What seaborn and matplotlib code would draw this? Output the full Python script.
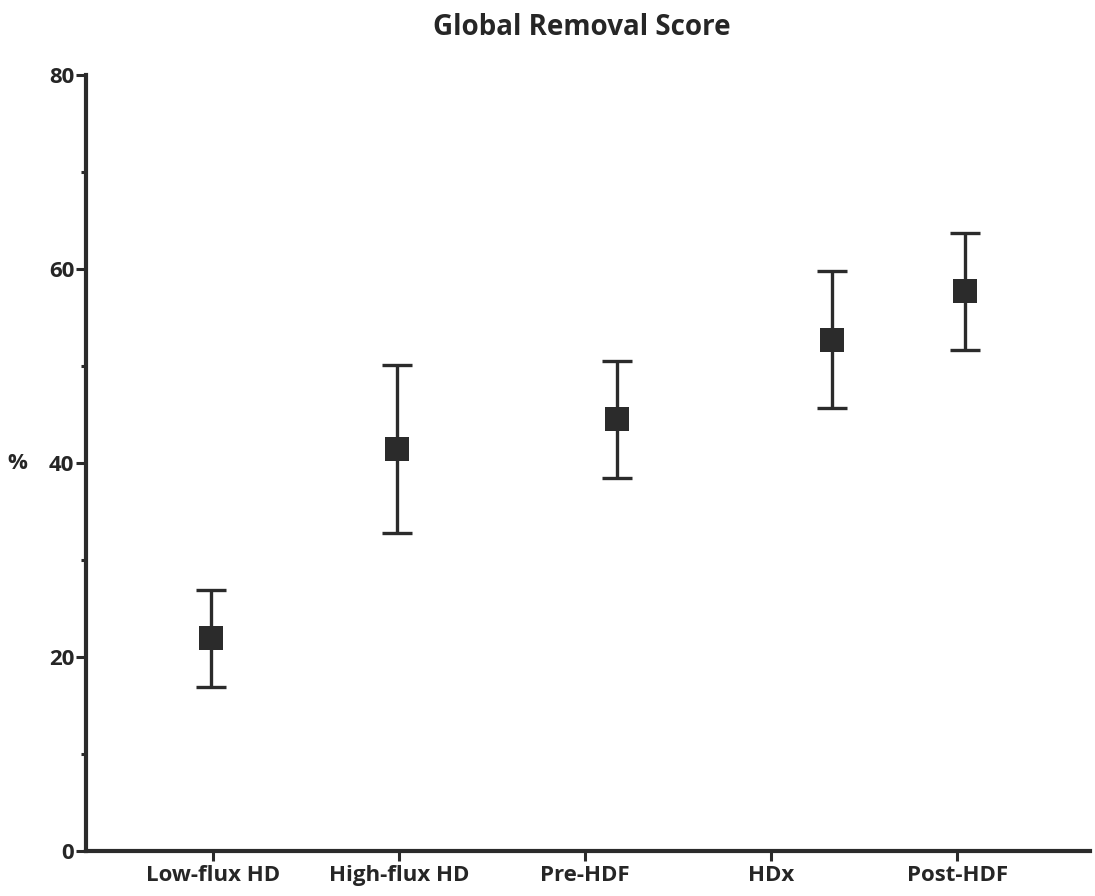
import matplotlib
matplotlib.use("Agg")
import matplotlib.pyplot as plt
import seaborn as sns
import pandas as pd
from matplotlib.ticker import MultipleLocator

categories = ["Low-flux HD", "High-flux HD", "Pre-HDF", "HDx", "Post-HDF"]
# horizontal placement of each marker as drawn in the original (category units)
marker_x = [-0.01, 0.99, 2.17, 3.33, 4.04]
means = [22.0, 41.4, 44.5, 52.7, 57.7]
upper = [26.9, 50.1, 50.5, 59.8, 63.7]
lower = [16.9, 32.8, 38.5, 45.7, 51.6]
y_ticks = [0, 20, 40, 60, 80]

sns.set_style("ticks")
plt.rcParams["font.family"] = ["Open Sans", "DejaVu Sans"]

df = pd.DataFrame({"x": marker_x, "mean": means, "upper": upper, "lower": lower})

fig = plt.figure(figsize=(10.95, 8.96), dpi=100)
ax = fig.add_axes([0.0785, 0.0502, 0.9170, 0.8661])

color = "#2b2b2b"
ax.errorbar(df["x"], df["mean"],
            yerr=[df["mean"] - df["lower"], df["upper"] - df["mean"]],
            fmt="none", ecolor=color, elinewidth=2.4, capsize=10.5, capthick=2.4, zorder=2)
sns.scatterplot(data=df, x="x", y="mean", marker="s", s=300, color=color,
                edgecolor=color, linewidth=0, ax=ax, zorder=3)

ax.set_xlim(-0.683, 4.715)
ax.set_ylim(0, 80)
ax.set_xticks(range(len(categories)))
ax.set_xticklabels(categories, fontsize=16, fontweight="bold")
ax.set_yticks(y_ticks)
ax.set_yticklabels([str(v) for v in y_ticks], fontsize=16, fontweight="bold")
ax.yaxis.set_minor_locator(MultipleLocator(10))
ax.tick_params(axis="both", which="major", direction="out", width=2.2, color=color)
ax.tick_params(axis="y", which="major", length=7.5, pad=1)
ax.tick_params(axis="y", which="minor", direction="out", length=3.8, width=2.2, color=color)
ax.tick_params(axis="x", which="major", length=7, pad=3)

for side in ["top", "right"]:
    ax.spines[side].set_visible(False)
for side in ["left", "bottom"]:
    ax.spines[side].set_linewidth(3)
    ax.spines[side].set_color(color)

ax.set_xlabel("")
ax.set_ylabel("%", rotation=0, fontsize=16, fontweight="bold", va="center", ha="center")
ax.yaxis.set_label_coords(-0.068, 0.5)
ax.set_title("Global Removal Score", fontsize=20, fontweight="bold", pad=29, x=0.494)

fig.savefig("out.png", dpi=100)
